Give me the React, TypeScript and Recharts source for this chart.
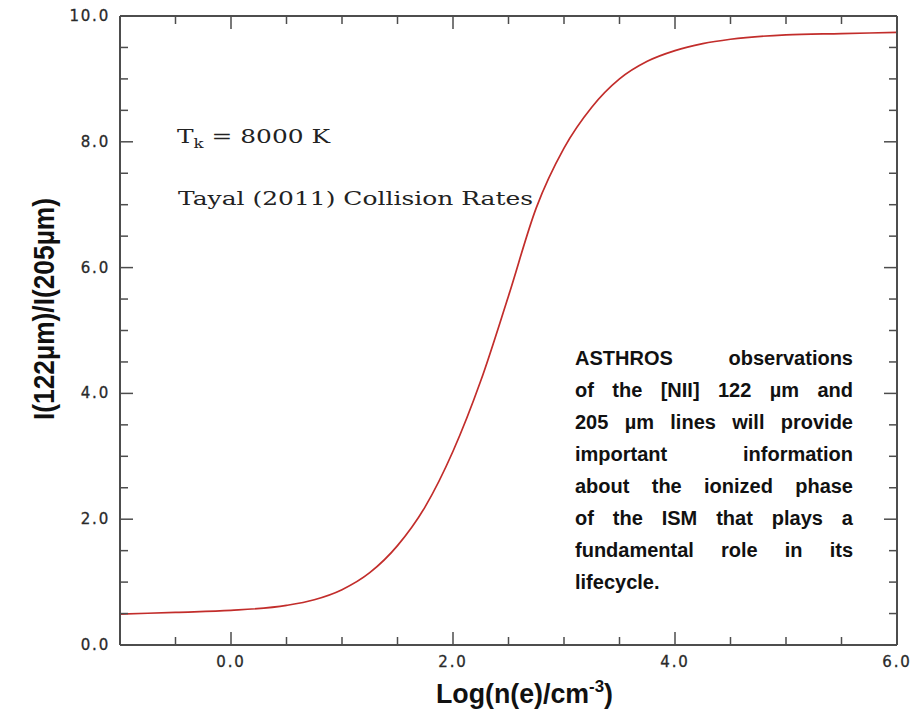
import React from "react"
import { LineChart, Line, XAxis, YAxis } from "recharts"

// [NII] 122/205 µm line ratio vs electron density
const logNe = [-1, -0.5, 0, 0.5, 0.75, 1, 1.25, 1.5, 1.75, 2, 2.25, 2.5, 2.75, 3, 3.25, 3.5, 3.75, 4, 4.25, 4.5, 5, 5.5, 6]
const ratio = [0.49, 0.52, 0.55, 0.63, 0.72, 0.88, 1.15, 1.58, 2.2, 3.08, 4.2, 5.55, 6.95, 7.9, 8.55, 9.0, 9.28, 9.45, 9.56, 9.63, 9.7, 9.72, 9.74]

const xTicks = [-1, -0.5, 0, 0.5, 1, 1.5, 2, 2.5, 3, 3.5, 4, 4.5, 5, 5.5, 6]
const xMajor = [0, 2, 4, 6]
const yTicks = [0, 0.5, 1, 1.5, 2, 2.5, 3, 3.5, 4, 4.5, 5, 5.5, 6, 6.5, 7, 7.5, 8, 8.5, 9, 9.5, 10]
const yMajor = [0, 2, 4, 6, 8, 10]

const noteLines = [
  "ASTHROS observations",
  "of the [NII] 122 µm and",
  "205 µm lines will provide",
  "important information",
  "about the ionized phase",
  "of the ISM that plays a",
  "fundamental role in its",
  "lifecycle.",
]

const data = logNe.map((x, i) => ({ logNe: x, ratio: ratio[i] }))

const AXIS = "#4d4d4d"
const LABEL = "#2a2a2a"

type Side = "bottom" | "top" | "left" | "right"

const makeTick = (side: Side, major: number[]) => (props: any) => {
  const { x, y, payload } = props
  const v = payload.value
  const isMajor = major.includes(v)
  const len = isMajor ? 13 : 8
  let x2 = x
  let y2 = y
  if (side === "bottom") y2 = y - len
  if (side === "top") y2 = y + len
  if (side === "left") x2 = x + len
  if (side === "right") x2 = x - len
  const label = v.toFixed(1)
  const font = { fontFamily: "DejaVu Sans", fontSize: 15, letterSpacing: 1.8, fill: LABEL, stroke: LABEL, strokeWidth: 0.3 }
  return (
    <g>
      <line x1={x} y1={y} x2={x2} y2={y2} stroke={AXIS} strokeWidth={1.5} />
      {side === "bottom" && isMajor && (
        <text x={x} y={y + 22} textAnchor="middle" {...font}>
          {label}
        </text>
      )}
      {side === "left" && isMajor && (
        <text x={x - 10} y={y + 5} textAnchor="end" {...font}>
          {label}
        </text>
      )}
    </g>
  )
}

export default function App() {
  return (
    <div style={{ position: "absolute", left: 0, top: 0, width: 917, height: 713, background: "#fff" }}>
      <LineChart width={917} height={713} data={data} margin={{ top: 15, right: 19, bottom: 67, left: 119 }}>
        <XAxis
          xAxisId="b"
          dataKey="logNe"
          type="number"
          domain={[-1, 6]}
          ticks={xTicks}
          interval={0}
          height={1}
          tickSize={0}
          tickMargin={0}
          tickLine={false}
          axisLine={{ stroke: AXIS, strokeWidth: 2 }}
          tick={makeTick("bottom", xMajor)}
          allowDataOverflow
        />
        <XAxis
          xAxisId="t"
          orientation="top"
          dataKey="logNe"
          type="number"
          domain={[-1, 6]}
          ticks={xTicks}
          interval={0}
          height={1}
          tickSize={0}
          tickMargin={0}
          tickLine={false}
          axisLine={{ stroke: AXIS, strokeWidth: 2 }}
          tick={makeTick("top", xMajor)}
          allowDataOverflow
        />
        <YAxis
          yAxisId="l"
          type="number"
          domain={[0, 10]}
          ticks={yTicks}
          interval={0}
          width={1}
          tickSize={0}
          tickMargin={0}
          tickLine={false}
          axisLine={{ stroke: AXIS, strokeWidth: 2 }}
          tick={makeTick("left", yMajor)}
          allowDataOverflow
        />
        <YAxis
          yAxisId="r"
          orientation="right"
          type="number"
          domain={[0, 10]}
          ticks={yTicks}
          interval={0}
          width={1}
          tickSize={0}
          tickMargin={0}
          tickLine={false}
          axisLine={{ stroke: AXIS, strokeWidth: 2 }}
          tick={makeTick("right", yMajor)}
          allowDataOverflow
        />
        <Line
          xAxisId="b"
          yAxisId="l"
          type="monotone"
          dataKey="ratio"
          stroke="#c22d2b"
          strokeWidth={1.7}
          dot={false}
          isAnimationActive={false}
        />
      </LineChart>

      <svg width={917} height={713} style={{ position: "absolute", left: 0, top: 0, pointerEvents: "none" }}>
        <text
          transform="translate(54, 309) rotate(-90)"
          textAnchor="middle"
          fontFamily="Liberation Sans, Arial"
          fontWeight="bold"
          fontSize={30}
          textLength={222}
          lengthAdjust="spacingAndGlyphs"
          fill="#111"
        >
          I(122µm)/I(205µm)
        </text>
        <text
          x={436}
          y={703}
          fontFamily="Liberation Sans, Arial"
          fontWeight="bold"
          fontSize={27}
          textLength={177}
          lengthAdjust="spacingAndGlyphs"
          fill="#111"
        >
          Log(n(e)/cm<tspan fontSize={17} dy={-11}>-3</tspan><tspan dy={11}>)</tspan>
        </text>
        <text
          x={177}
          y={143}
          fontFamily="DejaVu Serif"
          fontSize={18}
          fill="#222"
          textLength={153}
          lengthAdjust="spacingAndGlyphs"
        >
          T<tspan fontSize={12} dy={5}>k</tspan><tspan dy={-5}> = 8000 K</tspan>
        </text>
        <text
          x={178}
          y={205}
          fontFamily="DejaVu Serif"
          fontSize={18}
          fill="#222"
          textLength={355}
          lengthAdjust="spacingAndGlyphs"
        >
          Tayal (2011) Collision Rates
        </text>
      </svg>

      <div
        style={{
          position: "absolute",
          left: 575,
          top: 342,
          width: 278,
          fontFamily: "Liberation Sans, Arial",
          fontWeight: "bold",
          fontSize: 20,
          lineHeight: "32px",
          color: "#111",
        }}
      >
        {noteLines.map((line, i) => (
          <div
            key={i}
            style={{
              textAlign: "justify",
              textAlignLast: i === noteLines.length - 1 ? "left" : "justify",
              whiteSpace: "nowrap",
            }}
          >
            {line}
          </div>
        ))}
      </div>
    </div>
  )
}
